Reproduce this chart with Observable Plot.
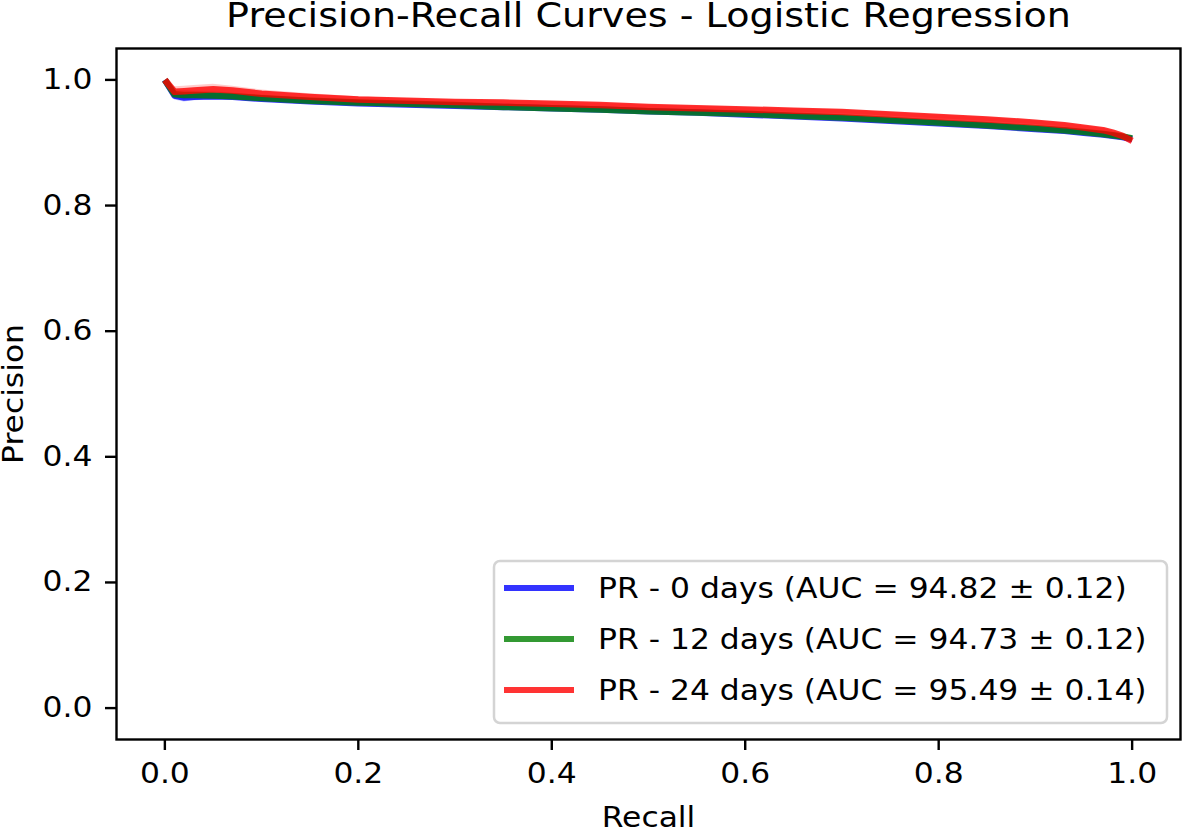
<!DOCTYPE html>
<html>
<head>
<meta charset="utf-8">
<script src="https://cdn.jsdelivr.net/npm/d3@7"></script>
<script src="https://cdn.jsdelivr.net/npm/@observablehq/plot@0.6"></script>
<style>
  html, body { margin: 0; padding: 0; background: #fff; }
  #wrap { position: relative; width: 1183px; height: 830px; font-family: "DejaVu Sans", sans-serif; }
  #legend { position: absolute; left: 0; top: 0; pointer-events: none; }
</style>
</head>
<body>
<div id="wrap"></div>
<script>
// ---- data ----
const title = "Precision-Recall Curves - Logistic Regression";
const xLabel = "Recall";
const yLabel = "Precision";
const xTicks = [0, 0.2, 0.4, 0.6, 0.8, 1.0];
const yTicks = [0, 0.2, 0.4, 0.6, 0.8, 1.0];
const seriesNames = [
  "PR - 0 days (AUC = 94.82 \u00b1 0.12)",
  "PR - 12 days (AUC = 94.73 \u00b1 0.12)",
  "PR - 24 days (AUC = 95.49 \u00b1 0.14)"
];
const seriesColors = ["#0000ff", "#008000", "#ff0000"];

const recall = [0, 0.01, 0.02, 0.03, 0.05, 0.07, 0.1, 0.15, 0.2, 0.25, 0.3, 0.35, 0.4, 0.45, 0.5,
  0.55, 0.6, 0.65, 0.7, 0.75, 0.8, 0.85, 0.9, 0.93, 0.95, 0.97, 0.98, 0.99, 1.0];

const precision0 = [1.000, 0.975, 0.972, 0.973, 0.974, 0.973, 0.970, 0.966, 0.963, 0.961, 0.959, 0.957, 0.955, 0.953, 0.950,
  0.948, 0.945, 0.942, 0.939, 0.935, 0.931, 0.927, 0.922, 0.919, 0.916, 0.913, 0.911, 0.909, 0.906];
const precision12 = [1.000, 0.977, 0.976, 0.976, 0.975, 0.974, 0.971, 0.967, 0.964, 0.962, 0.960, 0.957, 0.955, 0.953, 0.950,
  0.948, 0.946, 0.943, 0.940, 0.936, 0.932, 0.928, 0.923, 0.920, 0.917, 0.914, 0.912, 0.910, 0.907];
const precision24 = [1.000, 0.981, 0.982, 0.983, 0.985, 0.983, 0.978, 0.973, 0.969, 0.967, 0.965, 0.964, 0.962, 0.960, 0.957,
  0.955, 0.953, 0.951, 0.949, 0.945, 0.941, 0.937, 0.932, 0.928, 0.924, 0.920, 0.916, 0.911, 0.903];

const std0 = [0, 0.007, 0.007, 0.006, 0.006, 0.005, 0.005, 0.004, 0.004, 0.003, 0.003, 0.003, 0.003, 0.003, 0.003,
  0.003, 0.003, 0.003, 0.003, 0.003, 0.003, 0.003, 0.003, 0.003, 0.003, 0.003, 0.003, 0.003, 0.002];
const std12 = [0, 0.007, 0.007, 0.006, 0.006, 0.005, 0.005, 0.004, 0.004, 0.003, 0.003, 0.003, 0.003, 0.003, 0.003,
  0.003, 0.003, 0.003, 0.003, 0.003, 0.003, 0.003, 0.003, 0.003, 0.003, 0.003, 0.003, 0.003, 0.002];
const std24 = [0, 0.008, 0.008, 0.008, 0.008, 0.007, 0.006, 0.005, 0.004, 0.003, 0.003, 0.003, 0.003, 0.003, 0.003,
  0.003, 0.003, 0.003, 0.003, 0.003, 0.003, 0.003, 0.003, 0.003, 0.003, 0.003, 0.003, 0.003, 0.002];

// ---- build table ----
const precisions = [precision0, precision12, precision24];
const stds = [std0, std12, std24];
const rows = [];
seriesNames.forEach((name, s) => {
  recall.forEach((r, i) => {
    rows.push({series: name, recall: r, precision: precisions[s][i],
      lo: precisions[s][i] - stds[s][i], hi: precisions[s][i] + stds[s][i]});
  });
});

const W = 1183, H = 830;
const mL = 116, mR = 3, mT = 48, mB = 91;
const font = "DejaVu Sans";

const chart = Plot.plot({
  width: W, height: H,
  marginLeft: mL, marginRight: mR, marginTop: mT, marginBottom: mB,
  style: {fontFamily: font, fontSize: "28px", background: "white", color: "black"},
  x: {domain: [-0.05, 1.05], label: null},
  y: {domain: [-0.05, 1.05], label: null},
  color: {domain: seriesNames, range: seriesColors},
  marks: [
    Plot.areaY(rows, {x: "recall", y1: "lo", y2: "hi", z: "series", fill: "series", fillOpacity: 0.2}),
    Plot.line(rows, {x: "recall", y: "precision", z: "series", stroke: "series",
      strokeWidth: 6.5, strokeOpacity: 0.8, strokeLinejoin: "round", strokeLinecap: "butt"}),
    Plot.frame({stroke: "black", strokeWidth: 2.4}),
    Plot.axisX({ticks: xTicks, tickFormat: ".1f", tickSize: 11, tickPadding: 13,
      strokeWidth: 2.4, fontSize: 28, label: null}),
    Plot.axisY({ticks: yTicks, tickFormat: ".1f", tickSize: 11, tickPadding: 13,
      strokeWidth: 2.4, fontSize: 28, label: null}),
    Plot.text([title], {frameAnchor: "top", dy: -32, fontSize: 34, lineAnchor: "middle", textAnchor: "middle", text: d => d}),
    Plot.text([xLabel], {frameAnchor: "bottom", dy: 79, fontSize: 28, lineAnchor: "middle", textAnchor: "middle", text: d => d}),
    Plot.text([yLabel], {frameAnchor: "left", dx: -102, rotate: -90, fontSize: 28, lineAnchor: "middle", textAnchor: "middle", text: d => d})
  ]
});

const wrap = document.getElementById("wrap");
wrap.appendChild(chart);

// ---- legend overlay ----
const lg = d3.select(wrap).append("svg")
  .attr("id", "legend").attr("width", W).attr("height", H);
const box = {x: 494, y: 561, w: 673, h: 162};
lg.append("rect")
  .attr("x", box.x).attr("y", box.y).attr("width", box.w).attr("height", box.h)
  .attr("rx", 6).attr("ry", 6)
  .attr("fill", "white").attr("fill-opacity", 0.8)
  .attr("stroke", "#d4d4d4").attr("stroke-width", 2.5);
seriesNames.forEach((name, i) => {
  const cy = box.y + 27 + i * 51;
  lg.append("line")
    .attr("x1", box.x + 10).attr("x2", box.x + 80)
    .attr("y1", cy).attr("y2", cy)
    .attr("stroke", seriesColors[i]).attr("stroke-opacity", 0.8).attr("stroke-width", 6);
  lg.append("text")
    .attr("x", box.x + 104).attr("y", cy + 10)
    .attr("font-family", font).attr("font-size", 28).attr("fill", "black")
    .text(name);
});

// the reference glyphs are slightly wider than DejaVu Sans at this size: stretch horizontally
document.querySelectorAll("#wrap svg text").forEach(t => {
  const L = t.getComputedTextLength();
  if (L > 0) {
    t.setAttribute("textLength", (L * 1.12).toFixed(1));
    t.setAttribute("lengthAdjust", "spacingAndGlyphs");
  }
});
</script>
</body>
</html>
